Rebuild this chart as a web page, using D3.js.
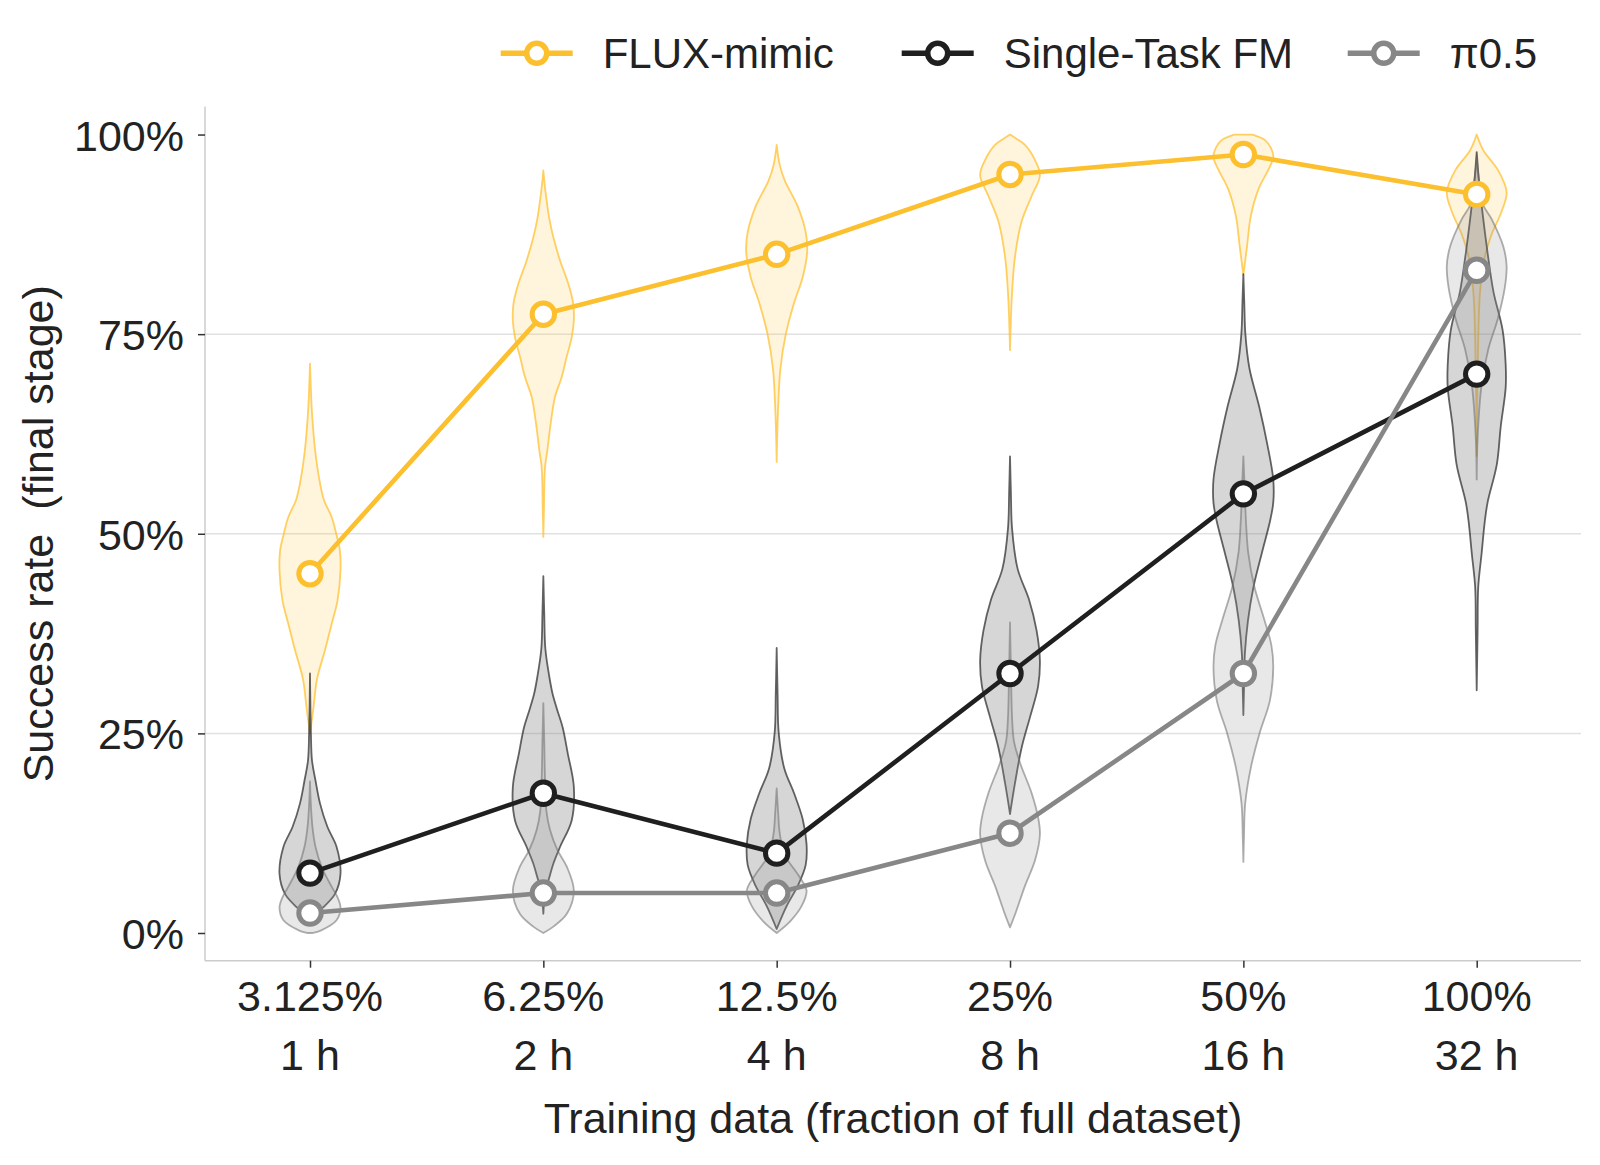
<!DOCTYPE html>
<html>
<head>
<meta charset="utf-8">
<script src="https://cdn.jsdelivr.net/npm/d3@7"></script>
<style>
  body { margin: 0; background: #fff; }
  text { font-family: "Liberation Sans", Arial, Helvetica, sans-serif; fill: #222; }
</style>
</head>
<body>
<div id="chart"></div>
<script>
// ---- data ----
let categories = ["3.125%", "6.25%", "12.5%", "25%", "50%", "100%"];
let hours = ["1 h", "2 h", "4 h", "8 h", "16 h", "32 h"];
let yTicks = [0, 25, 50, 75, 100];
let gridTicks = [25, 50, 75];

let seriesNames = ["FLUX-mimic", "Single-Task FM", "π0.5"];
let fluxMean = [45, 77.5, 85, 95, 97.5, 92.5];
let singleMean = [7.5, 17.5, 10, 32.5, 55, 70];
let piMean = [2.5, 5, 5, 12.5, 32.5, 83];

// violin profiles: [success %, relative density]
let fluxViolins = [
  [[25,0],[28.1,0.11],[31.8,0.23],[35.4,0.49],[38.7,0.71],[41.6,0.9],[45.4,1.0],[47.9,0.98],[50,0.86],[52.1,0.71],[54.2,0.46],[56.3,0.33],[60.4,0.17],[64.6,0.075],[67,0.04],[71.3,0]],
  [[49.6,0],[53,0.02],[58.3,0.055],[60.4,0.13],[63.8,0.24],[67.1,0.38],[69.6,0.6],[72.1,0.76],[74.6,0.93],[76.7,1.0],[78.8,0.98],[81.3,0.82],[84.2,0.55],[87.1,0.33],[89.6,0.19],[91.7,0.11],[93.5,0.05],[95.5,0]],
  [[59,0],[65,0.04],[70.6,0.12],[75,0.3],[78.9,0.57],[82.1,0.85],[85.3,1.0],[87.8,0.95],[91,0.69],[94.2,0.27],[96.2,0.1],[98.7,0]],
  [[73,0],[77,0.03],[80.1,0.066],[84.6,0.16],[89.1,0.38],[92.3,0.71],[94.9,0.98],[96.8,0.82],[98.7,0.49],[99.5,0.2],[100,0]],
  [[82.4,0],[86,0.12],[89.9,0.25],[93.2,0.5],[95.6,0.82],[97.1,0.98],[98,0.94],[99.3,0.71],[100,0.3]],
  [[59.7,0],[70,0.03],[80.3,0.11],[84.6,0.26],[87.5,0.49],[90.4,0.82],[92.8,0.98],[95.6,0.69],[98,0.22],[100,0]]
];
let singleViolins = [
  [[1.2,0],[2.4,0.2],[3.2,0.43],[4.9,0.82],[7.4,1.0],[10.8,0.87],[13.3,0.57],[16.2,0.33],[19.1,0.18],[21.6,0.066],[25,0.03],[32.5,0]],
  [[2.4,0],[5,0.06],[7,0.2],[8.7,0.33],[10.8,0.55],[14.1,0.93],[18.3,1.0],[22.5,0.8],[25.8,0.63],[28,0.45],[30,0.3],[32,0.2],[35.6,0.066],[40,0.03],[44.7,0]],
  [[0.5,0],[3.4,0.33],[5.9,0.69],[8.5,0.95],[11.1,0.98],[14.3,0.85],[17.5,0.57],[20.6,0.25],[25.1,0.066],[30,0.03],[35.7,0]],
  [[14.9,0],[18.7,0.16],[23.2,0.38],[27.1,0.66],[30.9,0.92],[34.1,0.98],[37.9,0.87],[41.8,0.62],[45.6,0.25],[50.7,0.066],[55,0.03],[59.7,0]],
  [[27.3,0],[32,0.03],[35,0.05],[39.1,0.15],[43.3,0.33],[47.5,0.6],[51.7,0.88],[53.9,0.98],[56.8,0.98],[61.1,0.79],[65.9,0.52],[70.7,0.2],[75,0.066],[79,0.03],[82.5,0]],
  [[30.4,0],[38,0.03],[43.3,0.05],[47.5,0.16],[51.7,0.27],[54,0.36],[58.7,0.66],[63.5,0.79],[68.3,0.95],[71.2,0.95],[75.5,0.85],[80.3,0.55],[85.1,0.36],[89.9,0.2],[94,0.08],[97.8,0]]
];
let piViolins = [
  [[0,0.1],[0.3,0.35],[1.6,0.87],[3.2,1.0],[4.5,0.9],[5.8,0.71],[8.3,0.38],[10.8,0.18],[13.3,0.08],[16,0.03],[19,0]],
  [[0,0],[0.8,0.33],[2.4,0.77],[5.3,1.0],[8.3,0.77],[10.4,0.46],[12.9,0.22],[15.3,0.1],[20,0.05],[24,0.03],[28.8,0]],
  [[0,0],[1.5,0.45],[3.4,0.82],[5.3,0.98],[7.2,0.72],[9.8,0.26],[12.5,0.1],[15,0.05],[18.1,0]],
  [[0.7,0],[2.7,0.2],[5.9,0.49],[9.1,0.82],[12.3,0.98],[14.3,0.93],[17.5,0.71],[21.3,0.33],[24,0.13],[27.1,0.066],[33,0.03],[38.9,0]],
  [[8.9,0],[12,0.02],[16.2,0.06],[20.8,0.25],[25,0.53],[29.1,0.87],[33.3,0.98],[36,0.92],[39.2,0.69],[43.4,0.36],[47.6,0.16],[52,0.08],[56,0.04],[59.7,0]],
  [[56.8,0],[62,0.03],[68.3,0.15],[73.1,0.38],[76.9,0.69],[80.8,0.92],[83.6,0.98],[86,0.87],[89.4,0.49],[91.3,0.2],[95,0.05],[97,0]]
];

// ---- layout ----
let width = 1600, height = 1165;
let plot = {left: 205, right: 1581, top: 106.6, bottom: 960.7};

let svg = d3.select("#chart")
    .append("svg")
    .attr("width", width)
    .attr("height", height);

let x = d3.scalePoint()
    .domain(categories)
    .range([310, 1476.7]);

let y = d3.scaleLinear()
    .domain([-3.47, 103.5])
    .range([plot.bottom, plot.top]);

let w = d3.scaleLinear()
    .domain([0, 1])
    .range([0, 30.5]);

// gridlines
svg.append("g")
    .selectAll("line")
    .data(gridTicks)
    .enter()
    .append("line")
    .attr("x1", plot.left)
    .attr("x2", plot.right)
    .attr("y1", d => y(d))
    .attr("y2", d => y(d))
    .attr("stroke", "#e1e1e1")
    .attr("stroke-width", 1.5);

// spines
svg.append("line")
    .attr("x1", plot.left).attr("x2", plot.left)
    .attr("y1", plot.top).attr("y2", plot.bottom)
    .attr("stroke", "#cccccc").attr("stroke-width", 1.5);
svg.append("line")
    .attr("x1", plot.left).attr("x2", plot.right)
    .attr("y1", plot.bottom).attr("y2", plot.bottom)
    .attr("stroke", "#cccccc").attr("stroke-width", 1.5);

// y axis
let yAxis = svg.append("g")
    .attr("transform", `translate(${plot.left},0)`)
    .call(d3.axisLeft(y).tickValues(yTicks).tickFormat(d => d + "%").tickSize(7).tickPadding(14));
yAxis.select(".domain").remove();
yAxis.selectAll("line").attr("stroke", "#333").attr("stroke-width", 1.5);
yAxis.selectAll("text")
    .style("font-size", "43px")
    .attr("fill", "#222")
    .attr("dy", "0.36em");

// x axis
let xAxis = svg.append("g")
    .attr("transform", `translate(0,${plot.bottom})`)
    .call(d3.axisBottom(x).tickSize(7).tickFormat(""));
xAxis.select(".domain").remove();
xAxis.selectAll("line").attr("stroke", "#333").attr("stroke-width", 1.5);

let xLabels = svg.append("g");
xLabels.selectAll("text.pct")
    .data(categories)
    .enter()
    .append("text")
    .attr("class", "pct")
    .attr("x", d => x(d))
    .attr("y", 1011)
    .style("text-anchor", "middle")
    .style("font-size", "43px")
    .text(d => d);
xLabels.selectAll("text.hrs")
    .data(hours)
    .enter()
    .append("text")
    .attr("class", "hrs")
    .attr("x", (d, i) => x(categories[i]))
    .attr("y", 1070)
    .style("text-anchor", "middle")
    .style("font-size", "43px")
    .text(d => d);

svg.append("text")
    .attr("x", (plot.left + plot.right) / 2)
    .attr("y", 1133)
    .style("text-anchor", "middle")
    .style("font-size", "43px")
    .text("Training data (fraction of full dataset)");

svg.append("text")
    .attr("transform", `translate(53, ${(y(0) + y(100)) / 2}) rotate(-90)`)
    .style("text-anchor", "middle")
    .style("font-size", "43px")
    .style("white-space", "pre")
    .attr("xml:space", "preserve")
    .text("Success rate  (final stage)");

// violins
let series = [
  {name: seriesNames[0], mean: fluxMean, violins: fluxViolins, line: "#fcbf2d",
   vFill: "rgba(255,196,60,0.18)", vStroke: "rgba(255,190,40,0.72)"},
  {name: seriesNames[1], mean: singleMean, violins: singleViolins, line: "#1f1f1f",
   vFill: "rgba(120,120,120,0.3)", vStroke: "rgba(50,50,50,0.75)"},
  {name: seriesNames[2], mean: piMean, violins: piViolins, line: "#878787",
   vFill: "rgba(150,150,150,0.22)", vStroke: "rgba(110,110,110,0.55)"}
];

let violinLayer = svg.append("g");
series.forEach(function(s) {
    s.violins.forEach(function(profile, i) {
        let cx = x(categories[i]);
        let area = d3.area()
            .curve(d3.curveCatmullRom.alpha(0.5))
            .y(d => y(d[0]))
            .x0(d => cx - w(d[1]))
            .x1(d => cx + w(d[1]));
        violinLayer.append("path")
            .datum(profile)
            .attr("d", area)
            .attr("fill", s.vFill)
            .attr("stroke", s.vStroke)
            .attr("stroke-width", 1.8)
            .attr("stroke-linejoin", "round");
    });
});

// mean lines + markers
let line = d3.line()
    .x((d, i) => x(categories[i]))
    .y(d => y(d));

series.forEach(function(s) {
    let g = svg.append("g");
    g.append("path")
        .datum(s.mean)
        .attr("d", line)
        .attr("fill", "none")
        .attr("stroke", s.line)
        .attr("stroke-width", 4.6)
        .attr("stroke-linejoin", "round");
    g.selectAll("circle")
        .data(s.mean)
        .enter()
        .append("circle")
        .attr("cx", (d, i) => x(categories[i]))
        .attr("cy", d => y(d))
        .attr("r", 11.2)
        .attr("fill", "#fff")
        .attr("stroke", s.line)
        .attr("stroke-width", 5);
});

// legend
let legendX = [500.7, 901.7, 1347.7];
let legend = svg.append("g");
series.forEach(function(s, i) {
    let lg = legend.append("g").attr("transform", `translate(${legendX[i]}, 53.3)`);
    lg.append("line")
        .attr("x1", 0).attr("x2", 72)
        .attr("stroke", s.line).attr("stroke-width", 5.5);
    lg.append("circle")
        .attr("cx", 36).attr("r", 10)
        .attr("fill", "#fff")
        .attr("stroke", s.line).attr("stroke-width", 5.5);
    lg.append("text")
        .attr("x", 102)
        .attr("y", 15)
        .style("font-size", "42px")
        .text(s.name);
});
</script>
</body>
</html>
